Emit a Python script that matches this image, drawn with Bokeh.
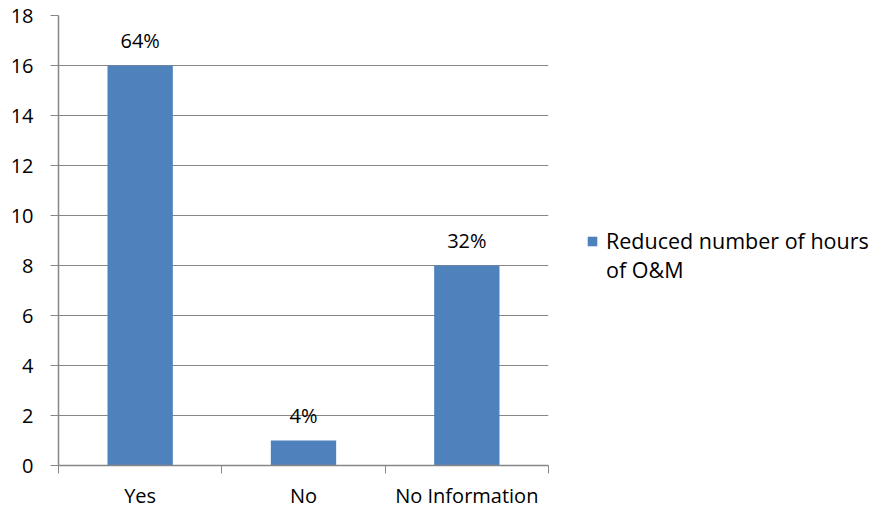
from bokeh.plotting import figure
from bokeh.models import (ColumnDataSource, FixedTicker, Legend, LegendItem, Range1d)
from bokeh.core.properties import value
from bokeh.embed import file_html
from bokeh.resources import INLINE

categories = ["Yes", "No", "No Information"]
counts = [16, 1, 8]
pct_labels = ["64%", "4%", "32%"]
series_name_lines = ["Reduced number of hours", "of O&M"]
y_ticks = [0, 2, 4, 6, 8, 10, 12, 14, 16, 18]

FONT = "Open Sans"
BAR = "#4F81BD"
GRID = "#868686"

xs = [i + 0.5 for i in range(len(categories))]
src = ColumnDataSource(dict(x=xs, top=counts, lab=pct_labels, cat=categories))

p = figure(frame_width=490, frame_height=450, output_backend="svg", toolbar_location=None,
           x_range=Range1d(0, len(categories)), y_range=Range1d(0, 18),
           min_border_left=58, min_border_right=0, min_border_top=15, min_border_bottom=47)
p.outline_line_color = None
p.background_fill_color = "white"
p.border_fill_color = "white"

r = p.vbar(x="x", top="top", width=0.4, bottom=0, source=src, fill_color=BAR, line_color=None)
# empty, invisible renderer used only to carry the legend's wrapped second line
r_wrap = p.vbar(x=[], top=[], width=0.4, fill_alpha=0, line_alpha=0)

p.text(x="x", y="top", text="lab", source=src, text_align="center", text_baseline="alphabetic",
       y_offset=-25, text_font=value(FONT), text_font_size="20px", text_color="black")

# x axis
xa = p.xaxis[0]
xa.ticker = FixedTicker(ticks=xs, minor_ticks=[0, 1, 2, 3])
xa.major_label_overrides = {x: c for x, c in zip(xs, categories)}
xa.major_tick_out = 0
xa.major_tick_in = 0
xa.minor_tick_out = 8
xa.minor_tick_in = 0
xa.minor_tick_line_color = GRID
xa.axis_line_color = GRID
xa.axis_line_width = 1.5
xa.major_label_text_font = FONT
xa.major_label_text_font_size = "20px"
xa.major_label_text_color = "black"
xa.major_label_standoff = 8

# y axis
ya = p.yaxis[0]
ya.ticker = FixedTicker(ticks=y_ticks)
ya.major_tick_out = 8
ya.major_tick_in = 0
ya.minor_tick_line_color = None
ya.major_tick_line_color = GRID
ya.axis_line_color = GRID
ya.axis_line_width = 1.5
ya.major_label_text_font = FONT
ya.major_label_text_font_size = "20px"
ya.major_label_text_color = "black"
ya.major_label_standoff = 17

p.xgrid.grid_line_color = None
p.ygrid.ticker = FixedTicker(ticks=y_ticks)
p.ygrid.grid_line_color = GRID
p.ygrid.grid_line_width = 1.2

legend = Legend(items=[LegendItem(label=series_name_lines[0], renderers=[r]),
                       LegendItem(label=series_name_lines[1], renderers=[r_wrap])],
                location=(38, 181), border_line_color=None, background_fill_alpha=0,
                label_text_font=FONT, label_text_font_size="21.5px", label_text_color="black",
                glyph_width=12, glyph_height=12, label_standoff=8, padding=0, margin=0,
                label_height=25, spacing=0)
p.add_layout(legend, "right")

open("out.html", "w").write(file_html(p, INLINE))
